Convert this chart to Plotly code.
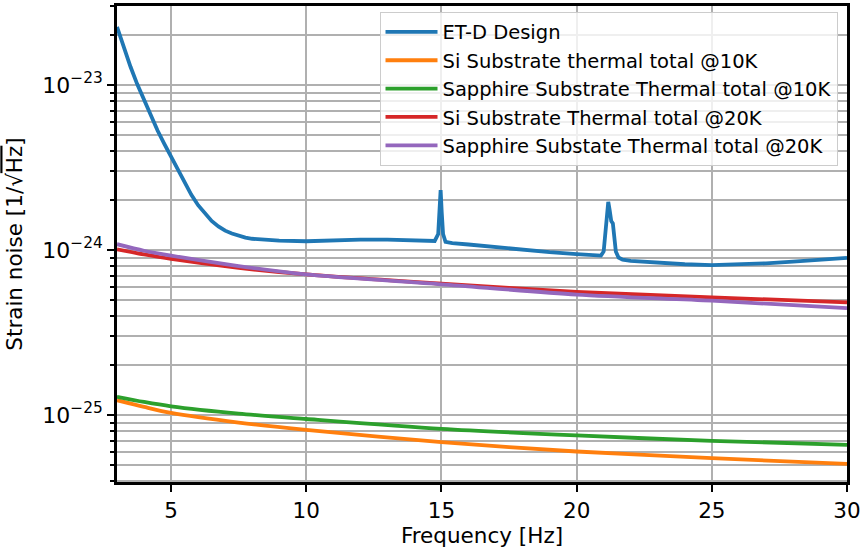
import plotly.graph_objects as go

# ---------------- data ----------------
etd_freq = [3.0, 3.25, 3.5, 3.75, 4.0, 4.25, 4.5, 4.75, 5.0, 5.25, 5.5, 5.75, 6.0, 6.25, 6.5,
            6.75, 7.0, 7.25, 7.5, 7.75, 8.0, 8.5, 9.0, 10.0, 11.0, 12.0,
            13.0, 14.0, 14.75, 14.88, 14.93, 14.97, 15.01, 15.06, 15.15, 15.4, 16.0, 17.0,
            18.0, 19.0, 20.0, 20.9, 21.0, 21.07, 21.13, 21.17, 21.22, 21.28, 21.34, 21.38,
            21.45, 21.55, 21.7, 22.0, 23.0, 24.0, 25.0, 26.0, 27.0, 28.0, 29.0, 30.0]
etd_asd = [2.25e-23, 1.69e-23, 1.29e-23, 1.01e-23, 8.1e-24, 6.5e-24, 5.3e-24, 4.4e-24,
           3.68e-24, 3.05e-24, 2.55e-24, 2.16e-24, 1.87e-24, 1.66e-24, 1.5e-24, 1.39e-24,
           1.31e-24, 1.26e-24, 1.22e-24, 1.19e-24, 1.17e-24, 1.15e-24, 1.14e-24, 1.13e-24,
           1.145e-24, 1.155e-24,
           1.155e-24, 1.145e-24, 1.135e-24, 1.25e-24, 1.7e-24, 2.31e-24, 1.7e-24, 1.25e-24,
           1.12e-24, 1.1e-24, 1.08e-24, 1.04e-24, 1.0e-24, 0.97e-24, 0.945e-24, 0.925e-24,
           0.98e-24, 1.3e-24, 1.8e-24, 1.96e-24, 1.75e-24, 1.5e-24, 1.45e-24, 1.3e-24,
           0.98e-24, 0.9e-24, 0.875e-24, 0.86e-24, 0.835e-24, 0.82e-24, 0.81e-24, 0.815e-24,
           0.83e-24, 0.85e-24, 0.87e-24, 0.895e-24]

sub_freq = [3, 4, 5, 7.5, 10, 15, 20, 25, 30]
si_10k = [1.23e-25, 1.12e-25, 1.03e-25, 0.9e-25, 0.812e-25, 0.684e-25, 0.601e-25, 0.548e-25, 0.505e-25]
sap_10k = [1.29e-25, 1.2e-25, 1.13e-25, 1.02e-25, 0.946e-25, 0.824e-25, 0.752e-25, 0.698e-25, 0.66e-25]
si_20k = [1.01e-24, 0.94e-24, 0.883e-24, 0.78e-24, 0.711e-24, 0.625e-24, 0.558e-24, 0.517e-24, 0.481e-24]
sap_20k = [1.085e-24, 0.99e-24, 0.925e-24, 0.8e-24, 0.711e-24, 0.62e-24, 0.537e-24, 0.493e-24, 0.445e-24]

names = ["ET-D Design", "Si Substrate thermal total @10K", "Sapphire Substrate Thermal total @10K",
         "Si Substrate Thermal total @20K", "Sapphire Substate Thermal total @20K"]
colors = ["#1f77b4", "#ff7f0e", "#2ca02c", "#d62728", "#9467bd"]

x_ticks = [5, 10, 15, 20, 25, 30]
y_ticks = [1e-25, 1e-24, 1e-23]
y_ticktext = ["10<sup>\u221225</sup>", "10<sup>\u221224</sup>", "10<sup>\u221223</sup>"]
y_minor = [m * 10.0 ** e for e in (-26, -25, -24, -23) for m in range(2, 10)]

FONT = "DejaVu Sans"
GRID = "#b0b0b0"

fig = go.Figure()
fig.add_trace(go.Scatter(x=etd_freq, y=etd_asd, mode="lines", name=names[0], legendgroup="g0",
                         line=dict(color=colors[0], width=3.8)))
series = [si_10k, sap_10k, si_20k, sap_20k]
for i, s in enumerate(series):
    fig.add_trace(go.Scatter(x=sub_freq, y=s, mode="lines", name=names[i + 1],
                             legendgroup="g%d" % (i + 1),
                             line=dict(color=colors[i + 1], width=3.8, shape="spline", smoothing=0.8)))

fig.update_layout(
    width=860, height=550,
    margin=dict(l=117, r=13, t=6, b=68, autoexpand=False),
    paper_bgcolor="white", plot_bgcolor="white",
    font=dict(family=FONT, size=20, color="black"),
    showlegend=True,
    legend=dict(x=0.987, xanchor="right", y=0.988, yanchor="top",
                bgcolor="rgba(255,255,255,0.8)", bordercolor="#cccccc", borderwidth=1,
                font=dict(family=FONT, size=19.5, color="black"), tracegroupgap=5,
                itemwidth=52, traceorder="normal"),
)
fig.update_xaxes(
    range=[3, 30], tickvals=x_ticks, ticks="outside", ticklen=7, tickwidth=1.8, tickcolor="black",
    showgrid=True, gridcolor=GRID, gridwidth=1.6, zeroline=False, automargin=False,
    showline=True, linecolor="black", linewidth=2.5, mirror=True,
    title=dict(text="Frequency [Hz]", font=dict(family=FONT, size=21.5), standoff=6),
    tickfont=dict(family=FONT, size=21.5), ticklabeloverflow="allow",
)
fig.update_yaxes(
    type="log", range=[-25.406, -22.521], tickvals=y_ticks, ticktext=y_ticktext,
    ticks="outside", ticklen=7, tickwidth=1.8, tickcolor="black", automargin=False,
    showgrid=True, gridcolor=GRID, gridwidth=1.6, zeroline=False,
    showline=True, linecolor="black", linewidth=2.5, mirror=True,
    minor=dict(tickvals=y_minor, ticks="outside", ticklen=4, tickwidth=1.5, tickcolor="black",
               showgrid=True, gridcolor=GRID, gridwidth=1.6),
    title=dict(text="Strain noise [1/\u221a<span style='text-decoration:overline'>Hz</span>]",
               font=dict(family=FONT, size=21.5), standoff=14),
    tickfont=dict(family=FONT, size=22),
)

fig.write_html("out.html")
